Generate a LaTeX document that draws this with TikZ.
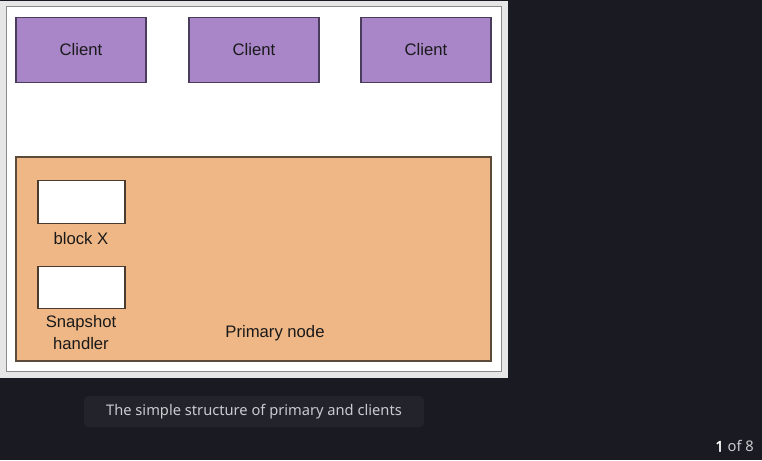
\documentclass[tikz,border=0pt]{standalone}
\usepackage{fontspec}
\setmainfont{Liberation Sans}
\newfontfamily\capfont{Noto Sans}
\newfontfamily\capboldfont{Noto Sans}[FakeBold=2]
\definecolor{bgdark}{HTML}{1A1A22}
\definecolor{framegray}{HTML}{E6E6E6}
\definecolor{bordergray}{HTML}{8A8A8A}
\definecolor{clientfill}{HTML}{A886C8}
\definecolor{clientline}{HTML}{4A3C5C}
\definecolor{primfill}{HTML}{EFB786}
\definecolor{primline}{HTML}{5C4A3A}
\definecolor{capbox}{HTML}{23232C}
\definecolor{captext}{HTML}{CACACF}
\definecolor{inktext}{HTML}{1A1A1A}
\tikzset{
  client/.style={draw=clientline, fill=clientfill, line width=0.9pt, minimum width=97.5pt, minimum height=48.75pt, inner sep=0pt, text=inktext, font=\fontsize{12.5pt}{15pt}\selectfont},
  primary/.style={draw=primline, fill=primfill, line width=0.9pt, minimum width=356.25pt, minimum height=153pt, inner sep=0pt},
  whitebox/.style={draw=primline!80!black, fill=white, line width=0.9pt, minimum width=65.25pt, minimum height=32pt, inner sep=0pt},
  lbl/.style={inner sep=0pt, text=inktext, font=\fontsize{12.5pt}{16.5pt}\selectfont, align=center},
  captxt/.style={inner sep=0pt, text=captext, font=\capfont\fontsize{11pt}{13pt}\selectfont},
}
\begin{document}
\begin{tikzpicture}[x=0.75pt,y=-0.75pt]
\useasboundingbox (0,0) rectangle (762,460);
\fill[bgdark] (0,0) rectangle (762,460);
\fill[framegray] (0,1) rectangle (508,378);
\draw[bordergray, fill=white, line width=0.8pt] (6.5,6.5) rectangle (501.5,371.5);
\node[client] (c1) at (81,50) {Client};
\node[client] (c2) at (254,50) {Client};
\node[client] (c3) at (426,50) {Client};
\node[primary] (prim) at (253.5,259) {};
\node[lbl] (primlabel) at (275,333.5) {Primary node};
\node[whitebox] (blockx) at (81.5,202) {};
\node[lbl] (blockxlabel) at (81,239) {block X};
\node[whitebox] (snap) at (81.5,287.5) {};
\node[lbl] (snaplabel) at (81,333) {Snapshot\\handler};
\fill[capbox, rounded corners=3pt] (84,396) rectangle (424,427);
\node[captxt] (caption) at (254,411.5) {The simple structure of primary and clients};
\node[captxt, anchor=east] (pager) at (754,446) {{\capboldfont\color{white}1} of 8};
\end{tikzpicture}
\end{document}
